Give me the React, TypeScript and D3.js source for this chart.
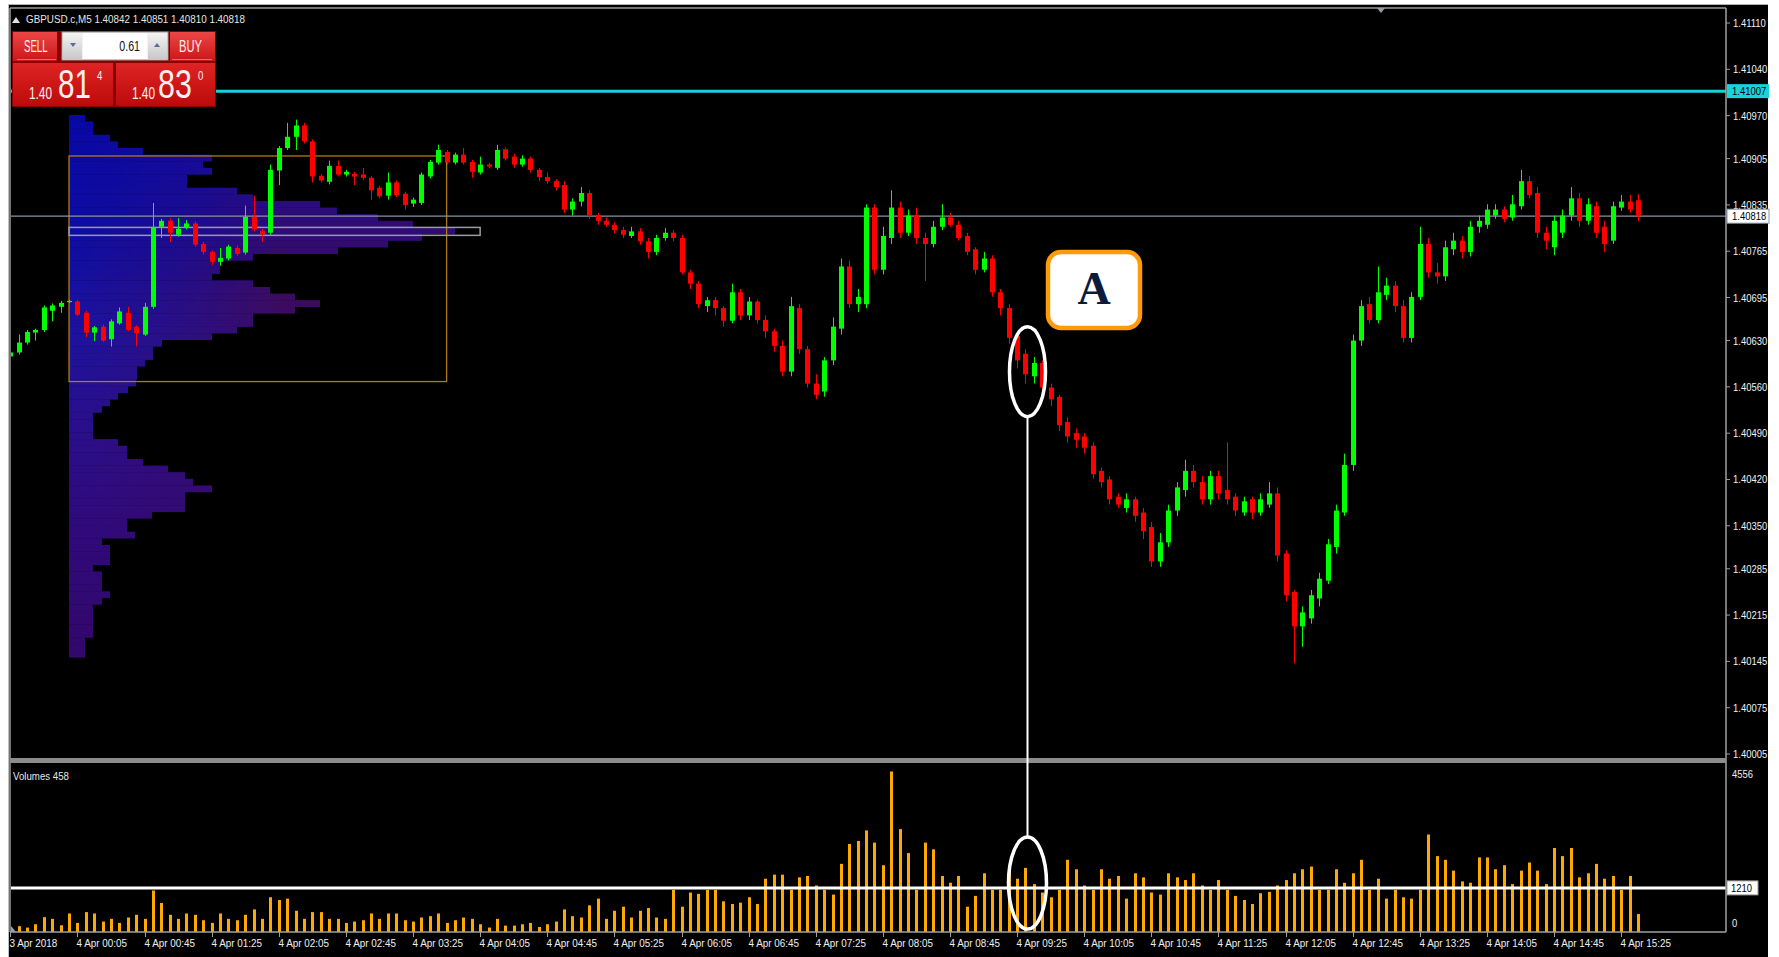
import React from "react";
import * as d3 from "d3";

const symbolTitle = "GBPUSD.c,M5";
const lastBar = ["1.40842", "1.40851", "1.40810", "1.40818"];
const lotSize = "0.61";
const bidParts = ["1.40", "81", "4"];
const askParts = ["1.40", "83", "0"];

const priceTicks = [1.4111, 1.4104, 1.4097, 1.40905, 1.40835, 1.40765, 1.40695, 1.4063, 1.4056, 1.4049, 1.4042, 1.4035, 1.40285, 1.40215, 1.40145, 1.40075, 1.40005];
const timeLabels = ["3 Apr 2018", "4 Apr 00:05", "4 Apr 00:45", "4 Apr 01:25", "4 Apr 02:05", "4 Apr 02:45", "4 Apr 03:25", "4 Apr 04:05", "4 Apr 04:45", "4 Apr 05:25", "4 Apr 06:05", "4 Apr 06:45", "4 Apr 07:25", "4 Apr 08:05", "4 Apr 08:45", "4 Apr 09:25", "4 Apr 10:05", "4 Apr 10:45", "4 Apr 11:25", "4 Apr 12:05", "4 Apr 12:45", "4 Apr 13:25", "4 Apr 14:05", "4 Apr 14:45", "4 Apr 15:25"];
const barsPerLabel = 8;

const currentPrice = 1.40818;
const cyanLevel = 1.41007;
const volumeLevel = 1210;
const lastVolume = 458;

const opens = [
1.40606,1.40612,1.40627,1.40642,1.40646,1.40675,1.40681,1.40688,1.40689,1.40672,
1.40642,1.40651,1.40632,1.40656,1.40672,1.40651,1.40639,1.40681,1.40802,1.40811,
1.40790,1.40801,1.40807,1.40776,1.40764,1.40749,1.40754,1.40770,1.40763,1.40817,
1.40796,1.40793,1.40887,1.40921,1.40938,1.40955,1.40931,1.40879,1.40870,1.40894,
1.40881,1.40882,1.40881,1.40876,1.40861,1.40849,1.40869,1.40852,1.40837,1.40838,
1.40878,1.40899,1.40915,1.40899,1.40911,1.40900,1.40884,1.40896,1.40891,1.40919,
1.40908,1.40896,1.40905,1.40888,1.40877,1.40871,1.40865,1.40828,1.40840,1.40853,
1.40819,1.40811,1.40805,1.40797,1.40788,1.40795,1.40780,1.40764,1.40785,1.40793,
1.40785,1.40733,1.40716,1.40682,1.40691,1.40679,1.40660,1.40703,1.40668,1.40689,
1.40661,1.40644,1.40622,1.40583,1.40679,1.40617,1.40565,1.40553,1.40600,1.40648,
1.40742,1.40685,1.40685,1.40831,1.40737,1.40785,1.40831,1.40793,1.40819,1.40785,
1.40776,1.40802,1.40816,1.40805,1.40788,1.40768,1.40737,1.40754,1.40703,1.40679,
1.40637,1.40610,1.40576,1.40596,1.40559,1.40545,1.40507,1.40490,1.40485,1.40471,
1.40433,1.40420,1.40394,1.40377,1.40390,1.40370,1.40348,1.40296,1.40325,1.40373,
1.40404,1.40433,1.40416,1.40390,1.40425,1.40404,1.40394,1.40370,1.40390,1.40370,
1.40382,1.40399,1.40308,1.40250,1.40198,1.40210,1.40240,1.40267,1.40318,1.40370,
1.40442,1.40630,1.40685,1.40661,1.40699,1.40713,1.40682,1.40634,1.40696,1.40776,
1.40733,1.40727,1.40768,1.40781,1.40764,1.40802,1.40805,1.40819,1.40828,1.40816,
1.40833,1.40871,1.40853,1.40793,1.40771,1.40793,1.40819,1.40845,1.40811,1.40833,
1.40802,1.40781,1.40831,1.40840,1.40842];

const highs = [
1.40616,1.40639,1.40646,1.40648,1.40683,1.40686,1.40690,1.40691,1.40692,1.40675,
1.40652,1.40654,1.40662,1.40680,1.40681,1.40653,1.40687,1.40838,1.40814,1.40815,
1.40815,1.40812,1.40810,1.40779,1.40766,1.40770,1.40775,1.40774,1.40834,1.40849,
1.40799,1.40896,1.40924,1.40959,1.40964,1.40959,1.40934,1.40882,1.40902,1.40902,
1.40888,1.40885,1.40891,1.40879,1.40864,1.40884,1.40872,1.40855,1.40846,1.40884,
1.40903,1.40926,1.40918,1.40914,1.40921,1.40903,1.40908,1.40899,1.40926,1.40922,
1.40912,1.40910,1.40908,1.40891,1.40884,1.40874,1.40871,1.40845,1.40862,1.40857,
1.40823,1.40816,1.40809,1.40802,1.40802,1.40800,1.40785,1.40790,1.40800,1.40797,
1.40790,1.40737,1.40720,1.40696,1.40696,1.40682,1.40716,1.40708,1.40696,1.40692,
1.40668,1.40648,1.40630,1.40696,1.40685,1.40622,1.40579,1.40605,1.40665,1.40754,
1.40751,1.40708,1.40836,1.40836,1.40802,1.40857,1.40840,1.40828,1.40831,1.40793,
1.40811,1.40836,1.40823,1.40811,1.40793,1.40771,1.40764,1.40759,1.40708,1.40685,
1.40644,1.40617,1.40605,1.40600,1.40565,1.40548,1.40514,1.40497,1.40490,1.40476,
1.40438,1.40425,1.40399,1.40399,1.40394,1.40377,1.40356,1.40339,1.40382,1.40416,
1.40450,1.40442,1.40425,1.40433,1.40433,1.40476,1.40399,1.40394,1.40394,1.40399,
1.40416,1.40408,1.40313,1.40253,1.40228,1.40253,1.40279,1.40330,1.40382,1.40459,
1.40639,1.40691,1.40696,1.40742,1.40725,1.40720,1.40691,1.40703,1.40802,1.40785,
1.40747,1.40781,1.40793,1.40788,1.40811,1.40819,1.40836,1.40836,1.40833,1.40850,
1.40888,1.40879,1.40862,1.40802,1.40819,1.40828,1.40862,1.40853,1.40845,1.40840,
1.40811,1.40840,1.40850,1.40850,1.40851];

const lows = [
1.40601,1.40609,1.40624,1.40630,1.40643,1.40659,1.40672,1.40687,1.40667,1.40635,
1.40629,1.40628,1.40621,1.40654,1.40644,1.40621,1.40637,1.40678,1.40785,1.40779,
1.40787,1.40798,1.40772,1.40760,1.40744,1.40743,1.40751,1.40758,1.40760,1.40795,
1.40779,1.40790,1.40865,1.40918,1.40918,1.40928,1.40869,1.40869,1.40866,1.40878,
1.40878,1.40865,1.40873,1.40843,1.40845,1.40843,1.40847,1.40828,1.40832,1.40835,
1.40875,1.40896,1.40896,1.40896,1.40896,1.40876,1.40881,1.40890,1.40888,1.40902,
1.40891,1.40893,1.40884,1.40871,1.40867,1.40857,1.40823,1.40819,1.40833,1.40814,
1.40805,1.40802,1.40792,1.40785,1.40785,1.40775,1.40754,1.40759,1.40781,1.40780,
1.40730,1.40708,1.40679,1.40673,1.40668,1.40651,1.40656,1.40661,1.40661,1.40656,
1.40634,1.40613,1.40576,1.40576,1.40610,1.40559,1.40541,1.40545,1.40593,1.40639,
1.40679,1.40673,1.40679,1.40730,1.40730,1.40776,1.40785,1.40788,1.40776,1.40720,
1.40771,1.40797,1.40802,1.40781,1.40759,1.40730,1.40733,1.40696,1.40668,1.40625,
1.40588,1.40565,1.40565,1.40548,1.40531,1.40493,1.40476,1.40468,1.40459,1.40421,
1.40408,1.40382,1.40377,1.40370,1.40356,1.40330,1.40288,1.40288,1.40318,1.40365,
1.40394,1.40408,1.40382,1.40382,1.40390,1.40382,1.40365,1.40365,1.40360,1.40365,
1.40377,1.40296,1.40236,1.40142,1.40167,1.40202,1.40228,1.40262,1.40308,1.40365,
1.40433,1.40622,1.40656,1.40656,1.40691,1.40673,1.40627,1.40627,1.40691,1.40725,
1.40716,1.40720,1.40759,1.40754,1.40757,1.40793,1.40799,1.40814,1.40809,1.40811,
1.40828,1.40845,1.40785,1.40768,1.40759,1.40785,1.40811,1.40802,1.40805,1.40785,
1.40764,1.40776,1.40826,1.40823,1.40810];

const closes = [
1.40612,1.40627,1.40643,1.40646,1.40680,1.40683,1.40687,1.40690,1.40669,1.40642,
1.40650,1.40630,1.40659,1.40674,1.40646,1.40641,1.40681,1.40801,1.40811,1.40793,
1.40799,1.40807,1.40775,1.40764,1.40749,1.40755,1.40772,1.40761,1.40817,1.40798,
1.40791,1.40888,1.40921,1.40938,1.40955,1.40931,1.40878,1.40872,1.40894,1.40881,
1.40885,1.40878,1.40876,1.40857,1.40848,1.40869,1.40850,1.40835,1.40843,1.40881,
1.40900,1.40918,1.40899,1.40911,1.40899,1.40885,1.40896,1.40893,1.40918,1.40905,
1.40896,1.40905,1.40888,1.40877,1.40871,1.40862,1.40828,1.40840,1.40853,1.40819,
1.40811,1.40805,1.40797,1.40790,1.40795,1.40780,1.40764,1.40785,1.40793,1.40785,
1.40733,1.40716,1.40685,1.40691,1.40679,1.40660,1.40703,1.40668,1.40689,1.40661,
1.40644,1.40622,1.40583,1.40682,1.40617,1.40565,1.40548,1.40600,1.40651,1.40742,
1.40685,1.40696,1.40831,1.40737,1.40788,1.40831,1.40793,1.40819,1.40785,1.40776,
1.40802,1.40816,1.40805,1.40785,1.40764,1.40737,1.40754,1.40703,1.40679,1.40634,
1.40600,1.40579,1.40596,1.40559,1.40541,1.40502,1.40485,1.40480,1.40468,1.40428,
1.40416,1.40390,1.40382,1.40390,1.40365,1.40342,1.40296,1.40325,1.40373,1.40408,
1.40433,1.40416,1.40390,1.40425,1.40399,1.40390,1.40373,1.40387,1.40370,1.40390,
1.40399,1.40305,1.40245,1.40198,1.40219,1.40245,1.40270,1.40322,1.40373,1.40442,
1.40630,1.40682,1.40661,1.40703,1.40713,1.40682,1.40634,1.40696,1.40776,1.40733,
1.40727,1.40771,1.40781,1.40764,1.40802,1.40811,1.40828,1.40828,1.40814,1.40836,
1.40871,1.40850,1.40793,1.40781,1.40811,1.40819,1.40845,1.40811,1.40836,1.40793,
1.40776,1.40833,1.40840,1.40828,1.40818];

const volumes = [
80,110,70,165,369,320,136,475,204,514,
475,243,320,204,359,437,320,1135,776,437,
320,475,437,281,204,475,320,281,437,592,
320,941,863,902,553,320,514,514,320,320,
204,243,281,475,320,475,475,281,243,359,
398,475,204,281,359,320,165,70,320,126,
126,165,204,87,165,243,592,398,359,708,
902,320,553,669,359,553,631,359,320,1154,
669,1077,1038,1154,1154,824,747,786,941,747,
1474,1591,1591,1154,1513,1552,1280,1154,1018,1901,
2473,2561,2862,2512,1862,4556,2900,2212,1154,2512,
2318,1552,1358,1552,669,980,1630,1154,1154,1862,
1474,1785,1319,1077,941,1154,2018,1746,1280,1154,
1746,1474,1552,902,1630,1513,1077,1018,1630,1513,
1436,1630,1280,1154,1436,1154,980,863,747,1057,
1096,1280,1436,1630,1746,1824,1154,1154,1746,1358,
1630,2018,1154,1474,902,1154,941,902,1154,2745,
2124,2018,1707,1397,1358,2086,2086,1746,1862,1319,
1707,1940,1707,1319,2357,2124,2357,1513,1630,1901,
1474,1552,1154,1552,458];

// market profile (volume at price), rows of 1 pip from the top price down
const profileTop = 1.40971;
const profileStep = 0.0001;
const profileStartBar = 7;
const profileVolumes = [
16,24,24,41,49,74,143,134,143,118,
118,168,184,251,268,309,344,386,353,319,
269,184,151,151,143,184,201,226,251,226,
184,184,168,143,93,84,84,76,68,68,
67,59,49,41,33,24,24,24,24,49,
58,58,74,99,116,124,143,116,116,116,
83,58,58,66,33,41,41,41,24,33,
33,33,41,33,24,24,24,24,24,16,
16,16];
const valueAreaHigh = 1.40909;
const valueAreaLow = 1.40568;
const valueAreaEndBar = 52;
const pocHigh = 1.40801;
const pocLow = 1.40789;
const pocEndBar = 56;

const annotationBar = 121;
const annotationPrice = 1.40583;
const annotationVolume = 1350;

const SANS = "'Liberation Sans',Arial,sans-serif";

function NText(props: { x: number; y: number; s?: number; size?: number; fill?: string; anchor?: string; children: React.ReactNode }) {
  const { x, y, s = 0.86, size = 11, fill = "#f0f0f0", anchor = "start", children } = props;
  return (
    <text transform={`translate(${x},${y}) scale(${s},1)`} fontSize={size} fill={fill} textAnchor={anchor as any} style={{ fontFamily: SANS }}>
      {children}
    </text>
  );
}

function FitText(props: { x: number; y: number; w: number; size: number; fill: string; anchor?: string; children: React.ReactNode }) {
  const { x, y, w, size, fill, anchor = "start", children } = props;
  return (
    <text x={x} y={y} fontSize={size} fill={fill} textAnchor={anchor as any} textLength={w} lengthAdjust="spacingAndGlyphs" style={{ fontFamily: SANS }}>
      {children}
    </text>
  );
}

export default function App() {
  const W = 1779, H = 957;
  const L = 10, R = 1726, TOP = 8, MAINB = 758, VOLT = 763, VOLB = 932;
  const n = closes.length;
  const x = d3.scaleLinear().domain([0, n - 1]).range([10.3, 10.3 + (n - 1) * 8.39]);
  const y = d3.scaleLinear().domain([priceTicks[priceTicks.length - 1], priceTicks[0]]).range([754, 23]);
  const vMax = d3.max(volumes) as number;
  const vy = d3.scaleLinear().domain([0, vMax]).range([930, 771.5]);
  const px = d3.scaleLinear().domain([0, d3.max(profileVolumes) as number]).range([0, 386]);

  const prof0 = x(profileStartBar);
  const leftCol = d3.piecewise(d3.interpolateRgb, ["#0808a6", "#0c0ca4", "#1c12a0", "#2a0e8a", "#30097a", "#33086c"]);
  const rightCol = d3.piecewise(d3.interpolateRgb, ["#1a0c96", "#3c0b60", "#3a0a64", "#36086a"]);

  const ax = x(annotationBar) + 2;
  const acy = y(annotationPrice);
  const vcy = vy(annotationVolume);
  const panelText = "#fff0f0";

  return (
    <div style={{ position: "absolute", left: 0, top: 0, width: W, height: H, background: "#fff" }}>
      <svg width={W} height={H} style={{ display: "block" }}>
        <defs>
          <clipPath id="mainClip"><rect x={L + 1} y={TOP + 1} width={R - L - 1} height={MAINB - TOP - 1} /></clipPath>
          <clipPath id="volClip"><rect x={L + 1} y={VOLT} width={R - L - 1} height={VOLB - VOLT} /></clipPath>
          {profileVolumes.map((_, k) => {
            const t = k / (profileVolumes.length - 1);
            const lc = leftCol(t);
            const rc = rightCol(t);
            return (
              <linearGradient key={"g" + k} id={"pg" + k} gradientUnits="userSpaceOnUse" x1={prof0} y1={0} x2={prof0 + 386} y2={0}>
                <stop offset="0" stopColor={lc} />
                <stop offset="0.3" stopColor={d3.interpolateRgb(lc, rc)(0.45)} />
                <stop offset="0.55" stopColor={rc} />
                <stop offset="1" stopColor={rc} />
              </linearGradient>
            );
          })}
          <linearGradient id="btnGrad" x1="0" y1="0" x2="0" y2="1">
            <stop offset="0" stopColor="#ec4646" />
            <stop offset="1" stopColor="#cc1616" />
          </linearGradient>
          <linearGradient id="boxGrad" x1="0" y1="0" x2="0" y2="1">
            <stop offset="0" stopColor="#de2424" />
            <stop offset="1" stopColor="#bc0a0a" />
          </linearGradient>
          <linearGradient id="arrGrad" x1="0" y1="0" x2="0" y2="1">
            <stop offset="0" stopColor="#f4f4f4" />
            <stop offset="1" stopColor="#c8c8c8" />
          </linearGradient>
        </defs>

        {/* background */}
        <rect x={8} y={4} width={1760} height={953} fill="#000" />
        <line x1={8} x2={1768} y1={4.5} y2={4.5} stroke="#b0b0b0" />
        <line x1={8.5} x2={8.5} y1={4} y2={957} stroke="#c0c0c0" />

        {/* market profile */}
        <g clipPath="url(#mainClip)">
          {profileVolumes.map((v, k) => {
            const yt = y(profileTop - k * profileStep);
            const yb = y(profileTop - (k + 1) * profileStep);
            return <rect key={"p" + k} x={prof0} y={yt} width={px(v)} height={yb - yt + 0.2} fill={`url(#pg${k})`} />;
          })}
          <rect x={prof0} y={y(valueAreaHigh)} width={x(valueAreaEndBar) - prof0} height={y(valueAreaLow) - y(valueAreaHigh)} fill="none" stroke="#b07a12" strokeWidth={1.3} />
          <rect x={prof0} y={y(pocHigh)} width={x(pocEndBar) - prof0} height={y(pocLow) - y(pocHigh)} fill="none" stroke="#9a9aa6" strokeWidth={1.5} />

          {/* levels */}
          <line x1={L} x2={R} y1={y(currentPrice)} y2={y(currentPrice)} stroke="#8a93a3" strokeWidth={1.4} />
          <line x1={L} x2={R} y1={y(cyanLevel)} y2={y(cyanLevel)} stroke="#19d3da" strokeWidth={3} />

          {/* candles */}
          {closes.map((c, i) => {
            const o = opens[i];
            const up = c >= o;
            const col = up ? "#00ff00" : "#ff0000";
            const cx = Math.round(x(i));
            const yTop = y(Math.max(o, c));
            const yBot = y(Math.min(o, c));
            return (
              <g key={"c" + i}>
                <line x1={cx + 0.5} x2={cx + 0.5} y1={y(highs[i])} y2={y(lows[i])} stroke={col} strokeWidth={1} />
                <rect x={cx - 2} y={yTop} width={5} height={Math.max(1, yBot - yTop)} fill={col} />
              </g>
            );
          })}
        </g>

        {/* volumes */}
        <g clipPath="url(#volClip)">
          {volumes.map((v, i) => (
            <rect key={"v" + i} x={Math.round(x(i)) - 1} y={vy(v)} width={3} height={VOLB - vy(v)} fill="#ffa800" />
          ))}
          <line x1={L} x2={R} y1={vy(volumeLevel)} y2={vy(volumeLevel)} stroke="#ffffff" strokeWidth={3} />
        </g>
        <path d={`M${L + 1},${VOLB} L${L + 1},${VOLB - 6} L${L + 6},${VOLB}Z`} fill="#8fa0c0" />
        <NText x={13} y={780} s={0.88} fill="#e6e6e6">{`Volumes ${lastVolume}`}</NText>

        {/* frame */}
        <line x1={L} x2={R} y1={TOP} y2={TOP} stroke="#9a9a9a" strokeWidth={1.5} />
        <line x1={L} x2={L} y1={TOP} y2={VOLB} stroke="#9a9a9a" strokeWidth={1.5} />
        <line x1={R} x2={R} y1={TOP} y2={VOLB} stroke="#a0a0a0" strokeWidth={1.5} />
        <rect x={L} y={MAINB} width={R - L} height={VOLT - MAINB} fill="#8c8c8c" />
        <line x1={L} x2={R} y1={VOLB} y2={VOLB} stroke="#a0a0a0" strokeWidth={1.5} />
        <path d="M1377,8 L1385,8 L1381,13Z" fill="#9a9aa6" />

        {/* price axis */}
        {priceTicks.map((p) => (
          <g key={"pt" + p}>
            <line x1={R} x2={R + 4} y1={y(p)} y2={y(p)} stroke="#a0a0a0" />
            <NText x={R + 7} y={y(p) + 4}>{p.toFixed(5)}</NText>
          </g>
        ))}
        <rect x={R + 1} y={y(cyanLevel) - 7} width={42} height={14} fill="#19d3da" />
        <NText x={R + 6} y={y(cyanLevel) + 4} fill="#000">{cyanLevel.toFixed(5)}</NText>
        <rect x={R + 1} y={y(currentPrice) - 7} width={42} height={14} fill="#ffffff" stroke="#8a93a3" />
        <NText x={R + 6} y={y(currentPrice) + 4} fill="#000">{currentPrice.toFixed(5)}</NText>

        {/* volume axis */}
        <NText x={R + 6} y={vy(vMax) + 6}>{String(vMax)}</NText>
        <rect x={R + 1} y={vy(volumeLevel) - 7} width={31} height={14} fill="#ffffff" stroke="#999" />
        <NText x={R + 5} y={vy(volumeLevel) + 4} fill="#000">{String(volumeLevel)}</NText>
        <NText x={R + 6} y={vy(0) - 3}>0</NText>

        {/* time axis */}
        {timeLabels.map((t, k) => {
          const tx = Math.round(x(k * barsPerLabel)) + 0.5;
          return (
            <g key={"t" + k}>
              <line x1={tx} x2={tx} y1={VOLB} y2={VOLB + 5} stroke="#a0a0a0" />
              <NText x={tx - 1} y={947} s={0.9}>{t}</NText>
            </g>
          );
        })}

        {/* header */}
        <path d="M12,23 L16,17 L20,23Z" fill="#e0e0e0" />
        <FitText x={26} y={23} w={219} size={11} fill="#e6e6e6">{`${symbolTitle}  ${lastBar.join(" ")}`}</FitText>

        {/* one-click trading panel */}
        <g>
          <rect x={12} y={31} width={204} height={76} fill="#8a0000" />
          <rect x={13} y={32} width={44} height={29} fill="url(#btnGrad)" />
          <line x1={17} x2={56} y1={59.5} y2={59.5} stroke="#f08080" strokeWidth={0.8} />
          <NText x={24} y={52} s={0.6} size={16} fill={panelText}>SELL</NText>
          <rect x={62} y={32} width={106} height={28} fill="#f2f2f2" stroke="#9a9a9a" />
          <rect x={63} y={33} width={19} height={26} fill="url(#arrGrad)" />
          <path d="M70,43 L76,43 L73,47Z" fill="#5a6a9a" />
          <rect x={83} y={33} width={64} height={26} fill="#ffffff" />
          <NText x={140} y={51} s={0.76} size={14} fill="#111" anchor="end">{lotSize}</NText>
          <rect x={148} y={33} width={19} height={26} fill="url(#arrGrad)" />
          <path d="M154,47 L160,47 L157,43Z" fill="#5a6a9a" />
          <rect x={170} y={32} width={45} height={29} fill="url(#btnGrad)" />
          <line x1={172} x2={212} y1={59.5} y2={59.5} stroke="#f08080" strokeWidth={0.8} />
          <NText x={179} y={52} s={0.7} size={16} fill={panelText}>BUY</NText>

          <rect x={13} y={63} width={100} height={43} fill="url(#boxGrad)" />
          <NText x={29} y={99} s={0.74} size={16} fill={panelText}>{bidParts[0]}</NText>
          <NText x={58} y={98} s={0.74} size={40} fill={panelText}>{bidParts[1]}</NText>
          <NText x={97} y={80} s={0.74} size={13} fill={panelText}>{bidParts[2]}</NText>

          <rect x={116} y={63} width={99} height={43} fill="url(#boxGrad)" />
          <NText x={132} y={99} s={0.74} size={16} fill={panelText}>{askParts[0]}</NText>
          <NText x={158} y={98} s={0.76} size={40} fill={panelText}>{askParts[1]}</NText>
          <NText x={198} y={80} s={0.74} size={13} fill={panelText}>{askParts[2]}</NText>
        </g>

        {/* annotation */}
        <ellipse cx={ax} cy={acy} rx={18} ry={45} fill="none" stroke="#ffffff" strokeWidth={3.5} />
        <ellipse cx={ax} cy={vcy} rx={19} ry={46} fill="none" stroke="#ffffff" strokeWidth={3.5} />
        <line x1={ax} x2={ax} y1={acy + 45} y2={vcy - 46} stroke="#ffffff" strokeWidth={2} />
        <rect x={1048} y={252} width={92} height={76} rx={13} ry={13} fill="#ffffff" stroke="#ff9a0a" strokeWidth={4.5} />
        <text x={1094} y={304} textAnchor="middle" fontSize={46} fontWeight="bold" fill="#0c1a3c" style={{ fontFamily: "'Liberation Serif','DejaVu Serif',serif" }}>A</text>
      </svg>
    </div>
  );
}
